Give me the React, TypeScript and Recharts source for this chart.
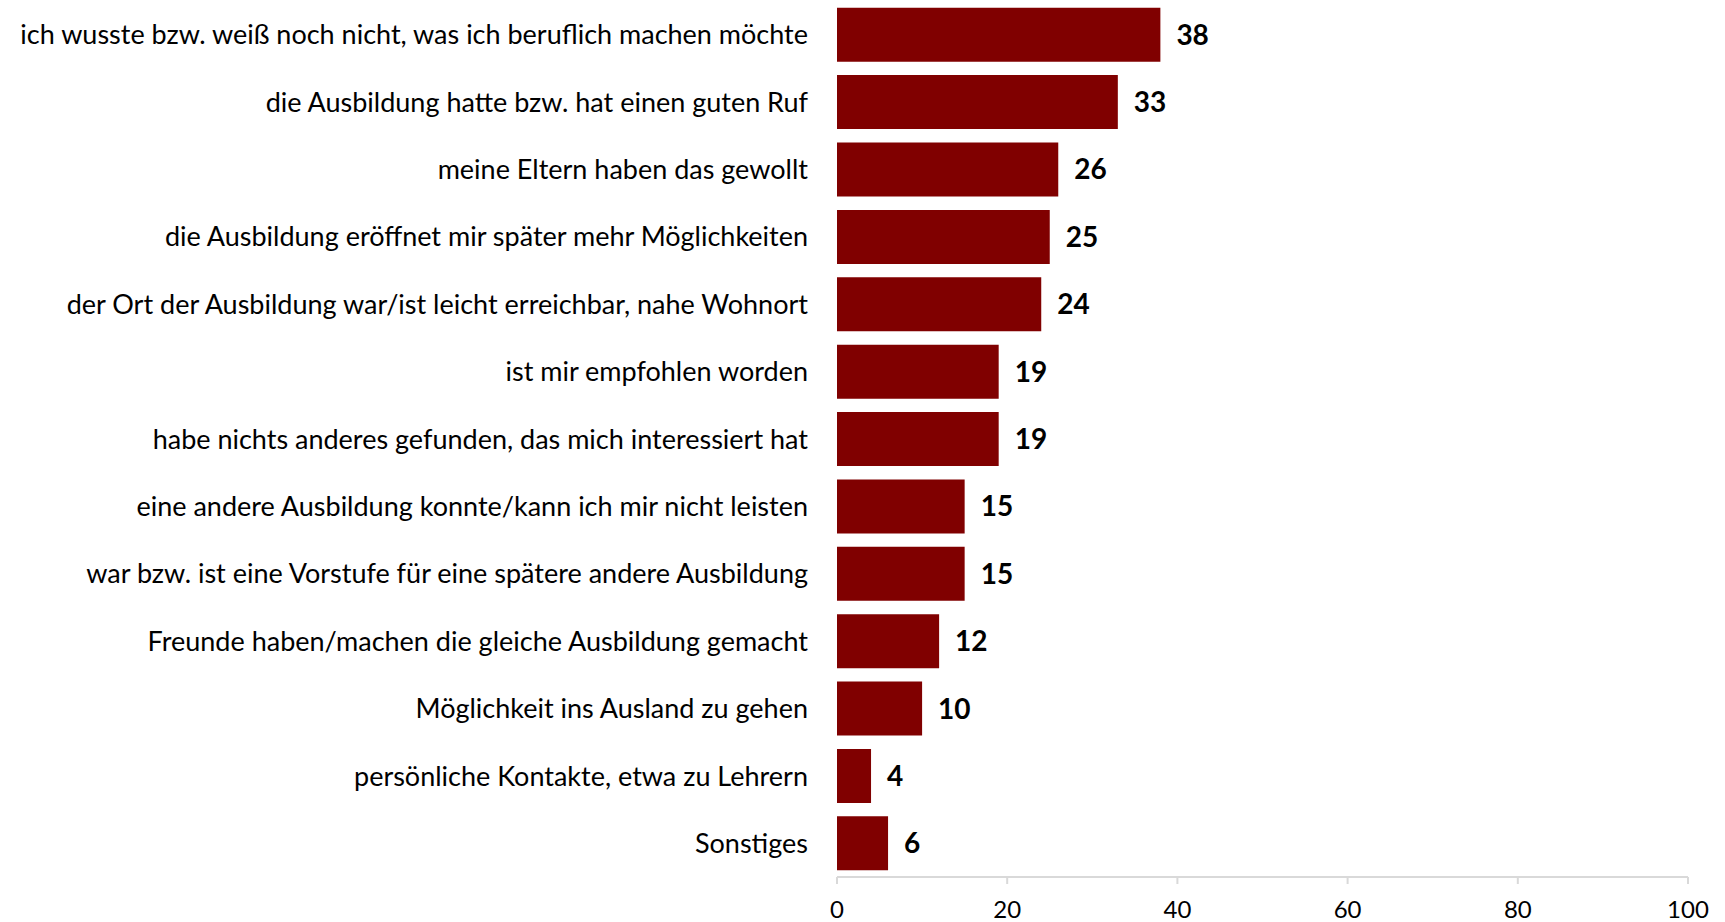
import { BarChart, Bar, XAxis, YAxis, LabelList } from "recharts";

const reasons = [
  "ich wusste bzw. weiß noch nicht, was ich beruflich machen möchte",
  "die Ausbildung hatte bzw. hat einen guten Ruf",
  "meine Eltern haben das gewollt",
  "die Ausbildung eröffnet mir später mehr Möglichkeiten",
  "der Ort der Ausbildung war/ist leicht erreichbar, nahe Wohnort",
  "ist mir empfohlen worden",
  "habe nichts anderes gefunden, das mich interessiert hat",
  "eine andere Ausbildung konnte/kann ich mir nicht leisten",
  "war bzw. ist eine Vorstufe für eine spätere andere Ausbildung",
  "Freunde haben/machen die gleiche Ausbildung gemacht",
  "Möglichkeit ins Ausland zu gehen",
  "persönliche Kontakte, etwa zu Lehrern",
  "Sonstiges",
];

const shares = [38, 33, 26, 25, 24, 19, 19, 15, 15, 12, 10, 4, 6];

const xTicks = [0, 20, 40, 60, 80, 100];

const data = reasons.map((reason, i) => ({ reason, value: shares[i] }));

const font = "Lato, 'Open Sans', sans-serif";

export default function App() {
  return (
    <div style={{ position: "absolute", left: 0, top: 0, width: 1725, height: 922, background: "#fff" }}>
      <BarChart
        width={1725}
        height={922}
        data={data}
        layout="vertical"
        margin={{ top: 1, right: 37, bottom: 0, left: 0 }}
        barCategoryGap="10%"
      >
        <XAxis
          type="number"
          domain={[0, 100]}
          ticks={xTicks}
          interval={0}
          axisLine={{ stroke: "#d9d9d9", strokeWidth: 2 }}
          tickLine={{ stroke: "#d9d9d9", strokeWidth: 2 }}
          tickSize={7}
          tickMargin={17}
          tick={{ fontSize: 24, fill: "#000", fontFamily: font }}
          height={45}
        />
        <YAxis
          type="category"
          dataKey="reason"
          width={837}
          axisLine={false}
          tickLine={false}
          tickSize={0}
          tickMargin={29}
          interval={0}
          tick={{ fontSize: 27, fill: "#000", fontFamily: font }}
        />
        <Bar dataKey="value" fill="#800000" isAnimationActive={false}>
          <LabelList
            dataKey="value"
            position="right"
            offset={16}
            style={{ fontSize: 28, fontWeight: "bold", fill: "#000", fontFamily: font }}
          />
        </Bar>
      </BarChart>
    </div>
  );
}
